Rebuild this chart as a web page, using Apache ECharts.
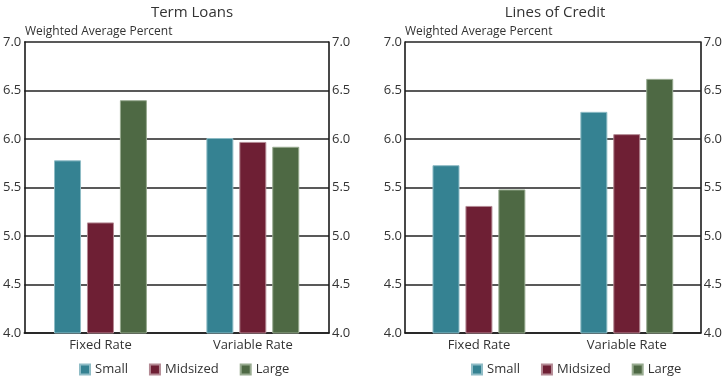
<!DOCTYPE html>
<html><head><meta charset="utf-8">
<script src="https://cdn.jsdelivr.net/npm/echarts@6/dist/echarts.min.js"></script>
<style>html,body{margin:0;padding:0;background:#fff}#c{width:725px;height:379px}</style>
</head><body><div id="c"></div>
<script>
const categories = ['Fixed Rate', 'Variable Rate'];
const seriesNames = ['Small', 'Midsized', 'Large'];
const termSmall = [5.78, 6.01];
const termMidsized = [5.14, 5.97];
const termLarge = [6.40, 5.92];
const creditSmall = [5.73, 6.28];
const creditMidsized = [5.31, 6.05];
const creditLarge = [5.48, 6.62];
const yTicks = { min: 4.0, max: 7.0, interval: 0.5 };
const panelTitles = ['Term Loans', 'Lines of Credit'];
const unitLabel = 'Weighted Average Percent';

const colors = ['#358292', '#6E1F34', '#4E6944'];
const borders = ['#8fbcc6', '#b48a94', '#98ab90'];
const FONT = 'Open Sans';
const chart = echarts.init(document.getElementById('c'), null, { renderer: 'canvas' });

function yAx(gridIndex, pos) {
  return {
    type: 'value', gridIndex, position: pos, min: yTicks.min, max: yTicks.max, interval: yTicks.interval,
    axisLine: { show: true, lineStyle: { color: '#1a1a1a', width: 1.6 } },
    axisTick: { show: false },
    axisLabel: { color: '#333', fontFamily: FONT, fontSize: 13, margin: 3, formatter: v => v.toFixed(1) },
    splitLine: { show: pos === 'left', lineStyle: { color: '#222', width: 1.5 } }
  };
}
function xAx(gridIndex) {
  return {
    type: 'category', gridIndex, data: categories,
    axisLine: { show: true, lineStyle: { color: '#1a1a1a', width: 1.6 } },
    axisTick: { show: false },
    axisLabel: { color: '#333', fontFamily: FONT, fontSize: 13, margin: 6 }
  };
}
const groups = [[termSmall, termMidsized, termLarge], [creditSmall, creditMidsized, creditLarge]];
const series = [];
groups.forEach((g, gi) => {
  g.forEach((data, si) => {
    series.push({
      name: seriesNames[si], type: 'bar', xAxisIndex: gi, yAxisIndex: gi * 2,
      data, barWidth: 27, barGap: '22%',
      itemStyle: { color: colors[si], borderColor: borders[si], borderWidth: 1 }
    });
  });
});
const legendBase = {
  data: seriesNames, itemWidth: 10, itemHeight: 10, itemGap: 21, icon: 'rect', padding: 0,
  textStyle: { color: '#333', fontFamily: FONT, fontSize: 13, padding: [0, 0, 0, 0] },
  selectedMode: false, top: 363
};
chart.setOption({
  animation: false,
  color: colors,
  title: [
    { text: panelTitles[0], left: 187, top: 0, textAlign: 'center', textStyle: { color: '#333', fontFamily: FONT, fontSize: 15, fontWeight: 'normal' } },
    { text: panelTitles[1], left: 550, top: 0, textAlign: 'center', textStyle: { color: '#333', fontFamily: FONT, fontSize: 15, fontWeight: 'normal' } },
    { text: unitLabel, left: 20, top: 21, textStyle: { color: '#333', fontFamily: FONT, fontSize: 12, fontWeight: 'normal' } },
    { text: unitLabel, left: 400, top: 21, textStyle: { color: '#333', fontFamily: FONT, fontSize: 12, fontWeight: 'normal' } }
  ],
  legend: [
    Object.assign({}, legendBase, { left: 79 }),
    Object.assign({}, legendBase, { left: 471 })
  ],
  grid: [
    { left: 22, right: 396, top: 42, bottom: 46 },
    { left: 405, right: 21, top: 42, bottom: 46 }
  ],
  xAxis: [xAx(0), xAx(1)],
  yAxis: [yAx(0, 'left'), yAx(0, 'right'), yAx(1, 'left'), yAx(1, 'right')],
  series
});
</script></body></html>
